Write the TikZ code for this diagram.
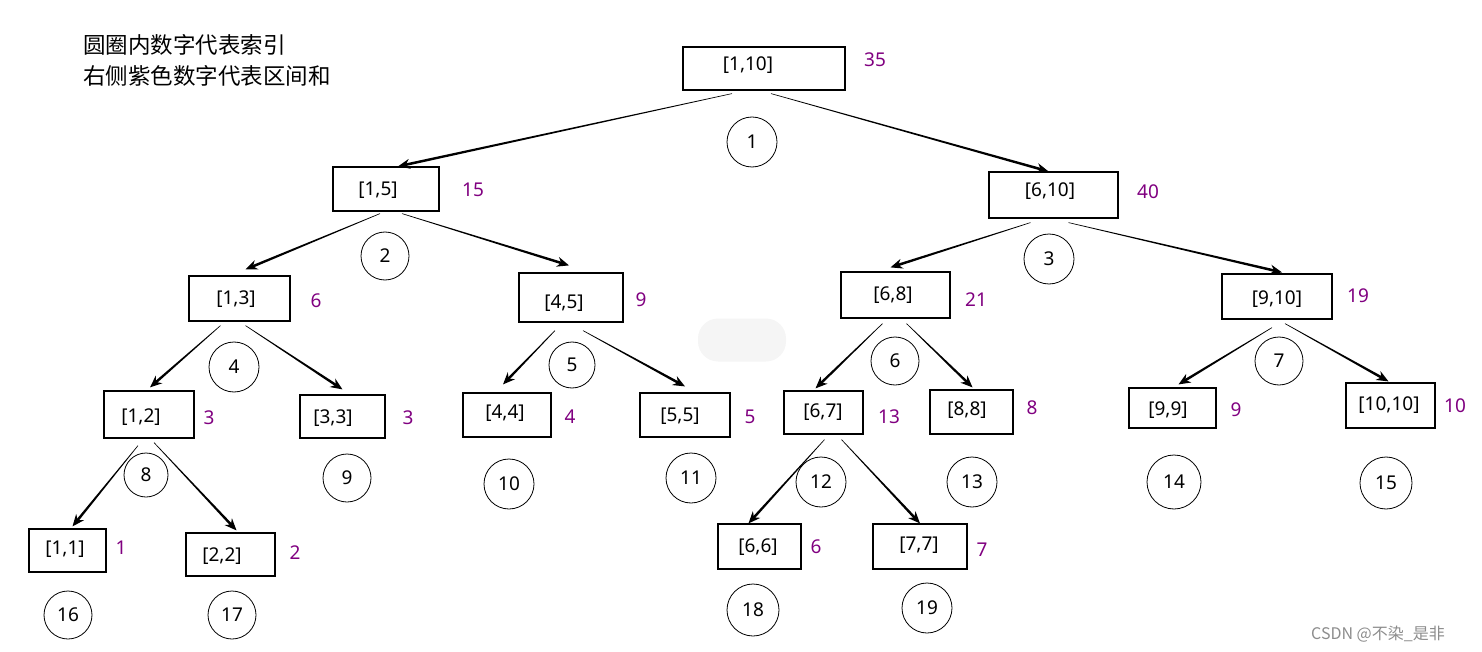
\documentclass[tikz,border=0pt]{standalone}
\usepackage{fontspec}
\setmainfont{Noto Sans}
\newfontfamily\cjk{Noto Sans CJK SC}
\usetikzlibrary{arrows.meta,fit,calc}
\definecolor{sumc}{HTML}{800080}
\tikzset{
 box/.style={draw, line width=1.2pt, inner sep=0pt},
 lbl/.style={font=\fontsize{19}{22}\selectfont, inner sep=0pt},
 sumlbl/.style={lbl, text=sumc},
 circ/.style={draw, circle, line width=0.8pt, inner sep=0pt, minimum size=50pt, font=\fontsize{19}{22}\selectfont},
 arrhead/.style={line width=1.2pt, -{Stealth[length=12pt,width=10pt]}}
}
\newcommand\bx[8]{%
 \node[box, fit={(#2,#3)(#4,#5)}] (#1) {};
 \node[lbl] (#1t) at (#6,#7) {#8};
}
\newcommand\conn[6]{%
 \coordinate (cs) at ($(#1.south)+(#2,#3)$);
 \coordinate (ce) at ($(#4.north)+(#5,#6)$);
 \coordinate (cm) at ($(ce)!6pt!(cs)$);
 \fill ($(cs)!0.3pt!90:(ce)$) -- ($(cs)!0.3pt!-90:(ce)$) -- ($(cm)!1.3pt!90:(cs)$) -- ($(cm)!1.3pt!-90:(cs)$) -- cycle;
 \draw[arrhead] ($(ce)!14pt!(cs)$) -- (ce);
}
\begin{document}
\begin{tikzpicture}[x=1pt,y=-1pt]
\useasboundingbox (0,0) rectangle (1482,652);
% faint blob
\node[fill=black!4, rounded corners=20pt, minimum width=88pt, minimum height=43pt, inner sep=0pt] (blob) at (742,340) {};
% legend
\node[anchor=west, font=\cjk\fontsize{22.5}{31}\selectfont, align=left, inner sep=0pt] (legend) at (83,60) {圆圈内数字代表索引\\右侧紫色数字代表区间和};
% boxes
\bx{r}{683}{47}{845}{90}{748}{65}{[1,10]}
\bx{A}{333}{167}{439}{211}{378}{190}{[1,5]}
\bx{B}{989}{172}{1118}{218}{1050}{191}{[6,10]}
\bx{C}{189}{276}{290}{321}{236}{299}{[1,3]}
\bx{D}{519}{273}{623}{322}{564}{303}{[4,5]}
\bx{E}{841}{272}{950}{318}{893}{295}{[6,8]}
\bx{F}{1222}{274}{1332}{319}{1277}{299}{[9,10]}
\bx{G}{104}{391}{194}{438}{141}{417}{[1,2]}
\bx{H}{300}{395}{385}{438}{333}{418}{[3,3]}
\bx{I}{463}{393}{551}{437}{505}{413}{[4,4]}
\bx{J}{640}{393}{730}{437}{680}{416}{[5,5]}
\bx{K}{784}{391}{863}{434}{823}{412}{[6,7]}
\bx{L}{930}{390}{1013}{434}{967}{410}{[8,8]}
\bx{M}{1129}{388}{1216}{428}{1168}{410}{[9,9]}
\bx{N}{1346}{383}{1435}{428}{1389}{405}{[10,10]}
\bx{O}{29}{529}{106}{572}{65}{549}{[1,1]}
\bx{P}{186}{533}{275}{576}{222}{556}{[2,2]}
\bx{Q}{718}{524}{801}{569}{758}{547}{[6,6]}
\bx{R}{873}{524}{967}{569}{919}{545}{[7,7]}
% sums
\node[sumlbl] (sr) at (875,60) {35};
\node[sumlbl] (sA) at (473,190) {15};
\node[sumlbl] (sB) at (1148,192) {40};
\node[sumlbl] (sC) at (316,301) {6};
\node[sumlbl] (sD) at (641,300) {9};
\node[sumlbl] (sE) at (976,300) {21};
\node[sumlbl] (sF) at (1358,296) {19};
\node[sumlbl] (sG) at (209,418) {3};
\node[sumlbl] (sH) at (408,418) {3};
\node[sumlbl] (sI) at (570,417) {4};
\node[sumlbl] (sJ) at (750,417) {5};
\node[sumlbl] (sK) at (889,417) {13};
\node[sumlbl] (sL) at (1032,408) {8};
\node[sumlbl] (sM) at (1236,410) {9};
\node[sumlbl] (sN) at (1455,406) {10};
\node[sumlbl] (sO) at (121,548) {1};
\node[sumlbl] (sP) at (295,553) {2};
\node[sumlbl] (sQ) at (816,547) {6};
\node[sumlbl] (sR) at (982,550) {7};
% circles
\node[circ] (c1) at (752,142) {1};
\node[circ, minimum size=48pt] (c2) at (385,256) {2};
\node[circ] (c3) at (1049,259) {3};
\node[circ] (c4) at (234,367) {4};
\node[circ, minimum size=46pt] (c5) at (572,365) {5};
\node[circ, minimum size=48pt] (c6) at (895,361) {6};
\node[circ, minimum size=48pt] (c7) at (1279,361) {7};
\node[circ, minimum size=44pt] (c8) at (146,475) {8};
\node[circ, minimum size=48pt] (c9) at (347,478) {9};
\node[circ] (c10) at (509,484) {10};
\node[circ] (c11) at (691,478) {11};
\node[circ] (c12) at (821,482) {12};
\node[circ] (c13) at (972,482) {13};
\node[circ, minimum size=54pt] (c14) at (1174,482) {14};
\node[circ, minimum size=52pt] (c15) at (1386,483) {15};
\node[circ, minimum size=48pt] (c16) at (68,615) {16};
\node[circ, minimum size=48pt] (c17) at (232,615) {17};
\node[circ, minimum size=52pt] (c18) at (753,610) {18};
\node[circ] (c19) at (927,608) {19};
% connectors
\conn{r}{-32}{3}{A}{12}{0}
\conn{r}{7}{3}{B}{-5}{0}
\conn{A}{-6}{2}{C}{6}{-6}
\conn{A}{16}{2}{D}{-2}{-7}
\conn{B}{-23}{4}{E}{-5}{-4}
\conn{B}{15}{4}{F}{5}{-1}
\conn{C}{-19}{4}{G}{1}{-3}
\conn{C}{6}{4}{H}{0}{-5}
\conn{D}{-16}{8}{I}{-4}{-8}
\conn{D}{12}{8}{J}{0}{-6}
\conn{E}{-13}{5}{K}{-8}{-2}
\conn{E}{11}{5}{L}{1}{-2}
\conn{F}{-5}{8}{M}{6}{-3}
\conn{F}{8}{4}{N}{-2}{-1}
\conn{G}{-11}{7}{O}{5}{-2}
\conn{G}{5}{4}{P}{6}{-2}
\conn{K}{1}{5}{Q}{-11}{0}
\conn{K}{18}{5}{R}{0}{0}
% watermark
\node[anchor=west, font=\cjk\fontsize{16}{18}\selectfont, text=black!45, inner sep=0pt] (wm) at (1311,634) {CSDN @不染\_是非};
\end{tikzpicture}
\end{document}
